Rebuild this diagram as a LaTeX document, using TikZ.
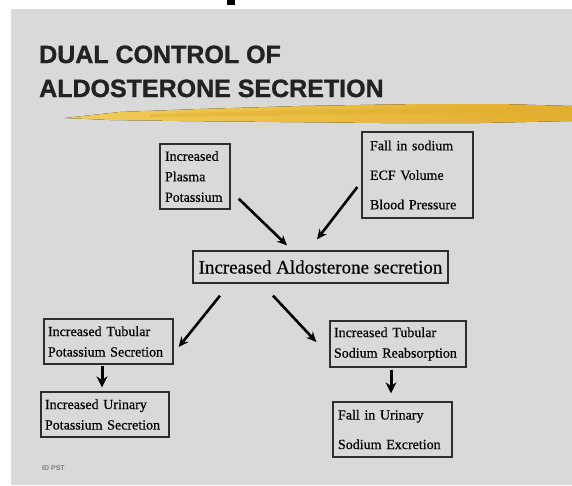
\documentclass[tikz,border=0pt]{standalone}
\usepackage{fontspec}
\setmainfont{Liberation Serif}
\setsansfont{Liberation Sans}
\newfontfamily\titlefont{Liberation Sans}[FakeBold=1.2]
\newfontfamily\boxfont{Liberation Serif}[FakeBold=0.5]
\usetikzlibrary{arrows.meta, positioning}
\definecolor{slidegray}{HTML}{D9D9D9}
\definecolor{boxline}{HTML}{2E2E2E}
\definecolor{titleink}{HTML}{222222}
\definecolor{brushgold}{HTML}{E2AE2E}
\definecolor{brushlight}{HTML}{F0CC58}
\tikzstyle{flowbox} = [rectangle, draw=boxline, line width=1.3pt, fill=slidegray, align=left,
  inner ysep=0pt, font=\boxfont\fontsize{14}{20.5}\selectfont, text=black]
\tikzstyle{widebox} = [flowbox, font=\boxfont\fontsize{14}{29.5}\selectfont]
\tikzstyle{arrow} = [line width=2.6pt, -{Stealth[length=10pt,width=9pt]}]
\tikzstyle{downarrow} = [line width=3pt, -{Stealth[length=11pt,width=11pt]}]
\tikzstyle{titletext} = [anchor=base west, inner sep=0pt, text=titleink,
  font=\titlefont\bfseries\fontsize{25}{30}\selectfont]

\begin{document}
\begin{tikzpicture}[x=1pt, y=-1pt]
  \useasboundingbox (0,0) rectangle (572,485);
  \fill[white] (0,0) rectangle (572,485);
  \fill[slidegray] (11,9) rectangle (572,485);
  \fill[black] (227,0) rectangle (235,5);

  % title and brush stroke
  \node (title1) [titletext] at (39,63) {DUAL CONTROL OF};
  \node (title2) [titletext] at (39,97) {ALDOSTERONE SECRETION};
  \fill[left color=brushlight, right color=brushgold]
    (65,118) -- (120,112) -- (200,109) -- (300,106) -- (420,104) -- (500,104) -- (572,106)
    -- (572,121) -- (480,123) -- (380,123) -- (280,122) -- (180,121) -- (110,120) -- cycle;
  \fill[brushgold, opacity=0.5]
    (150,114) -- (300,110) -- (460,108) -- (572,110) -- (572,114) -- (460,113) -- (300,115) -- (150,117) -- cycle;

  % causes
  \node (plasma) [flowbox, text width=60pt, inner xsep=5pt, minimum height=65pt] at (195,176.5)
    {Increased\\Plasma\\Potassium};
  \node (sodium) [widebox, text width=95pt, inner xsep=8pt, minimum height=86pt] at (417.5,175)
    {Fall in sodium\\ECF Volume\\Blood Pressure};
  \node (aldo) [flowbox, align=center, minimum width=255pt, minimum height=32pt,
    font=\boxfont\fontsize{19}{22}\selectfont] at (320.5,267) {Increased Aldosterone secretion};

  % effects
  \node (ktub) [flowbox, text width=121pt, inner xsep=4pt, minimum height=45pt] at (108.5,341.5)
    {Increased Tubular\\Potassium Secretion};
  \node (natub) [flowbox, text width=128pt, inner xsep=4pt, minimum height=46pt] at (398,344)
    {Increased Tubular\\Sodium Reabsorption};
  \node (kurine) [flowbox, text width=120pt, inner xsep=4pt, minimum height=45pt] at (105,414.5)
    {Increased Urinary\\Potassium Secretion};
  \node (naurine) [widebox, text width=109pt, inner xsep=5pt, minimum height=55pt] at (392.5,429.5)
    {Fall in Urinary\\Sodium Excretion};

  \node (credit) [anchor=base west, inner sep=0pt, text=gray, font=\sffamily\bfseries\fontsize{7}{8}\selectfont]
    at (42,470) {ID PST};

  \draw[arrow] ([xshift=8pt,yshift=11pt]plasma.south east) -- ([xshift=-33.5pt,yshift=5pt]aldo.north);
  \draw[arrow] ([xshift=-4pt,yshift=-12pt]sodium.west) -- ([xshift=-3.5pt,yshift=11pt]aldo.north);
  \draw[arrow] ([xshift=-100.5pt,yshift=-12pt]aldo.south) -- ([xshift=5pt,yshift=-5.5pt]ktub.east);
  \draw[arrow] ([xshift=-47.5pt,yshift=-12pt]aldo.south) -- ([xshift=-13pt,yshift=2pt]natub.west);
  \draw[downarrow, shorten <=1pt, shorten >=4pt] ([xshift=-6.5pt]ktub.south) -- ([xshift=-3pt]kurine.north);
  \draw[downarrow, shorten <=2pt, shorten >=8pt] ([xshift=-7pt]natub.south) -- ([xshift=-1.5pt]naurine.north);
\end{tikzpicture}
\end{document}
